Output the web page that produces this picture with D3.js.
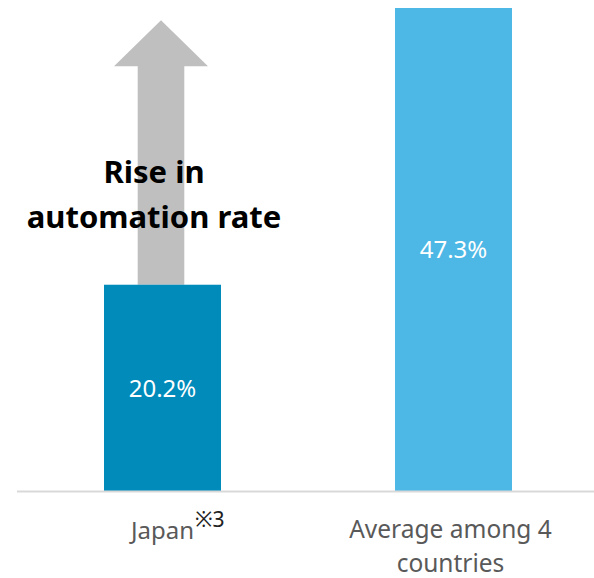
<!DOCTYPE html>
<html><head><meta charset="utf-8">
<script src="https://cdn.jsdelivr.net/npm/d3@7"></script>
<style>html,body{margin:0;padding:0;background:#fff;}svg{display:block;}</style>
</head><body>
<script>
const categories = ["Japan", "Average among 4 countries"];
const values = [20.2, 47.3];
const valueLabels = ["20.2%", "47.3%"];
const barColors = ["#008bbb", "#4db8e5"];
const arrowTarget = 46.1;
const annotation = ["Rise in", "automation rate"];

const W = 594, H = 578;
const svg = d3.select("body").append("svg").attr("width", W).attr("height", H);
const font = "'Noto Sans','DejaVu Sans',sans-serif";

const x = d3.scaleBand().domain(categories).range([17, 599]).paddingInner(0.598).paddingOuter(0.299);
const y = d3.scaleLinear().domain([0, 47.3]).range([491, 8]);

// arrow
const cx = x(categories[0]) + x.bandwidth() / 2 - 1.5;
const shaftHalf = 23.3, headHalf = 47, headH = 46;
const yBase = y(values[0]), yTip = y(arrowTarget), yHead = yTip + headH;
svg.append("path")
  .attr("d", `M${cx - shaftHalf},${yBase} L${cx - shaftHalf},${yHead} L${cx - headHalf},${yHead} L${cx},${yTip} L${cx + headHalf},${yHead} L${cx + shaftHalf},${yHead} L${cx + shaftHalf},${yBase} Z`)
  .attr("fill", "#bfbfbf");

// bars
svg.selectAll("rect.bar").data(categories).join("rect").attr("class", "bar")
  .attr("x", d => x(d)).attr("width", x.bandwidth())
  .attr("y", (d, i) => y(values[i])).attr("height", (d, i) => y(0) - y(values[i]))
  .attr("fill", (d, i) => barColors[i]);

// axis line
svg.append("line").attr("x1", 17).attr("x2", W).attr("y1", y(0) + 0.5).attr("y2", y(0) + 0.5)
  .attr("stroke", "#d9d9d9").attr("stroke-width", 2);

// value labels
svg.selectAll("text.val").data(categories).join("text").attr("class", "val")
  .attr("x", d => x(d) + x.bandwidth() / 2)
  .attr("y", (d, i) => (y(values[i]) + y(0)) / 2)
  .attr("dy", "0.36em").attr("text-anchor", "middle")
  .attr("fill", "#fff").attr("font-family", font).attr("font-size", 24)
  .text((d, i) => valueLabels[i]);

// annotation text
svg.selectAll("text.ann").data(annotation).join("text").attr("class", "ann")
  .attr("x", 154).attr("y", (d, i) => 183 + i * 45)
  .attr("text-anchor", "middle").attr("font-family", font).attr("font-weight", "bold")
  .attr("font-size", 31).attr("fill", "#000").text(d => d);

// category labels
const jx = x(categories[0]) + x.bandwidth() / 2;
const jt = svg.append("text").attr("x", jx).attr("y", 539).attr("text-anchor", "middle")
  .attr("font-family", font).attr("font-size", 24).attr("fill", "#595959").text("Japan");
const jw = jt.node().getComputedTextLength();
svg.append("text").attr("x", jx + jw / 2 + 1).attr("y", 527)
  .attr("font-family", font).attr("font-size", 21).attr("fill", "#222").text("※3");

const ax = x(categories[1]) + x.bandwidth() / 2 - 3;
svg.append("text").attr("x", ax).attr("y", 538).attr("text-anchor", "middle")
  .attr("font-family", font).attr("font-size", 24.5).attr("fill", "#595959").text("Average among 4");
svg.append("text").attr("x", ax).attr("y", 572).attr("text-anchor", "middle")
  .attr("font-family", font).attr("font-size", 24.5).attr("fill", "#595959").text("countries");
</script>
</body></html>
